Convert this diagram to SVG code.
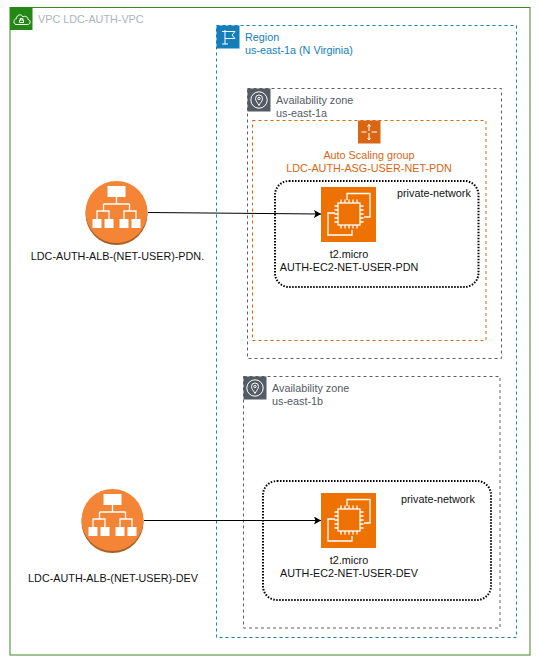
<svg xmlns="http://www.w3.org/2000/svg" width="538" height="667" viewBox="0 0 538 667">
<style>
text{font-family:"Liberation Sans",Arial,sans-serif;font-size:10.8px}
.box{fill:none}
.ic{fill:none;stroke:#fff;stroke-width:1}
.dots{fill:none;stroke:#000;stroke-width:2;stroke-dasharray:1.5 1.5}
.az{fill:none;stroke:#5a6069;stroke-width:1;stroke-dasharray:3 3}
.azt{fill:#545b64}
.lbl{fill:#111}
</style>
<defs>
<marker id="arr" markerUnits="userSpaceOnUse" markerWidth="9" markerHeight="8" refX="7" refY="4" orient="auto"><path d="M0 0L7 4L0 8L1.5 4Z" fill="#000"/></marker>
<g id="azicon"><rect width="23" height="23" fill="#545b64"/><circle cx="11.500" cy="11.500" r="8.200" class="ic"/><path class="ic" d="M11.500 17C10 14 8 12.500 8 10a3.500 3.500 0 0 1 7 0C15 12.500 13 14 11.500 17Z"/><circle cx="11.500" cy="10" r="1.200" class="ic"/></g>
<g id="albicon"><circle cy="2" r="31" fill="#a85f26"/><circle r="31" fill="#f58536"/>
<g fill="#fff"><rect x="-9" y="-26" width="18" height="11"/><rect x="-24" y="7" width="9" height="9"/><rect x="-12" y="7" width="9" height="9"/><rect x="3" y="7" width="9" height="9"/><rect x="15" y="7" width="9" height="9"/></g>
<path d="M0-15V-8M-13-8H13M-13-8V-1M13-8V-1M-19.500 7V-1H-7.500V7M7.500 7V-1H19.500V7" fill="none" stroke="#fff" stroke-width="1.300"/></g>
<g id="ec2icon"><rect width="55" height="55" fill="#ee7202"/><g fill="none" stroke="#fff" stroke-width="1.300"><path d="M26 13V6.500H49V30H43M14 26H7V48H31V43"/><rect x="17" y="16" width="22" height="22"/><path d="M20 12.500V16M24 12.500V16M28 12.500V16M32 12.500V16M36 12.500V16M20 38V41.500M24 38V41.500M28 38V41.500M32 38V41.500M36 38V41.500M13.500 19H17M13.500 23H17M13.500 27H17M13.500 31H17M13.500 35H17M39 19H42.500M39 23H42.500M39 27H42.500M39 31H42.500M39 35H42.500"/></g></g>
</defs>

<g id="vpc">
<rect class="box" x="10" y="7.500" width="520" height="647.500" stroke="#3f8624" stroke-width="1"/>
<rect x="10" y="7" width="22.500" height="23" fill="#248814"/>
<path class="ic" d="M16 24.500H27.500C31 24.500 31 20 28 19.500C28 16.500 24.500 15.500 23 17C21.500 13.500 16.500 14.500 16.500 18.500C13.500 19 13 24 16 24.500ZM19.500 22.500H23.500V20H19.500ZM20.300 20V18.500H22.700V20"/>
<text x="38" y="23" fill="#aab7b8">VPC LDC-AUTH-VPC</text>
</g>

<g id="region">
<rect class="box" x="216.500" y="25.500" width="300" height="612" stroke="#147eba" stroke-dasharray="3 3"/>
<rect x="216.500" y="25.500" width="23" height="23" fill="#147eba"/>
<path class="ic" d="M225 44V30M222 31.500H235L232 35L235 38.500H225M222 44H228"/>
<text x="245" y="41" fill="#147eba">Region</text>
<text x="245" y="54" fill="#147eba">us-east-1a (N Virginia)</text>
</g>

<g id="az-1a">
<rect class="az" x="247.500" y="88.500" width="254" height="270"/>
<use href="#azicon" x="247.500" y="88.500"/>
<text class="azt" x="276" y="104">Availability zone</text>
<text class="azt" x="276" y="117">us-east-1a</text>
</g>

<g id="asg">
<rect class="box" x="252.500" y="120.500" width="233.500" height="220" stroke="#d86613" stroke-dasharray="3 3"/>
<rect x="358" y="120.500" width="22.500" height="23" fill="#d86613"/>
<path class="ic" d="M369 124.500V131M369 133V140M361.500 132H366.500M371.500 132H377M367.500 126.500L369 124.500L370.500 126.500M367.500 138L369 140L370.500 138"/>
<text x="369" y="159" text-anchor="middle" fill="#d86613">Auto Scaling group</text>
<text x="369" y="172" text-anchor="middle" fill="#d86613">LDC-AUTH-ASG-USER-NET-PDN</text>
</g>

<g id="private-1">
<rect class="dots" x="275" y="181" width="203.500" height="106" rx="14"/>
<text class="lbl" x="397" y="197">private-network</text>
</g>

<g id="ec2-pdn">
<use href="#ec2icon" x="321" y="187"/>
<text class="lbl" x="349" y="258" text-anchor="middle">t2.micro</text>
<text class="lbl" x="349" y="271" text-anchor="middle">AUTH-EC2-NET-USER-PDN</text>
</g>

<g id="alb-pdn">
<use href="#albicon" x="116.500" y="212"/>
<text class="lbl" x="117.500" y="260" text-anchor="middle">LDC-AUTH-ALB-(NET-USER)-PDN.</text>
</g>

<g id="az-1b">
<rect class="az" x="243.500" y="376.500" width="256.500" height="251.500"/>
<use href="#azicon" x="243.500" y="376.500"/>
<text class="azt" x="272" y="392">Availability zone</text>
<text class="azt" x="272" y="405">us-east-1b</text>
</g>

<g id="private-2">
<rect class="dots" x="263" y="481" width="228" height="119" rx="14"/>
<text class="lbl" x="401" y="503">private-network</text>
</g>

<g id="ec2-dev">
<use href="#ec2icon" x="321" y="493"/>
<text class="lbl" x="349" y="564" text-anchor="middle">t2.micro</text>
<text class="lbl" x="349" y="577" text-anchor="middle">AUTH-EC2-NET-USER-DEV</text>
</g>

<g id="alb-dev">
<use href="#albicon" x="112.500" y="520"/>
<text class="lbl" x="113" y="582" text-anchor="middle">LDC-AUTH-ALB-(NET-USER)-DEV</text>
</g>

<g id="connectors" fill="none" stroke="#000" stroke-width="1">
<path d="M148 212.500L321 214" marker-end="url(#arr)"/>
<path d="M144 520.500H321" marker-end="url(#arr)"/>
</g>
</svg>
